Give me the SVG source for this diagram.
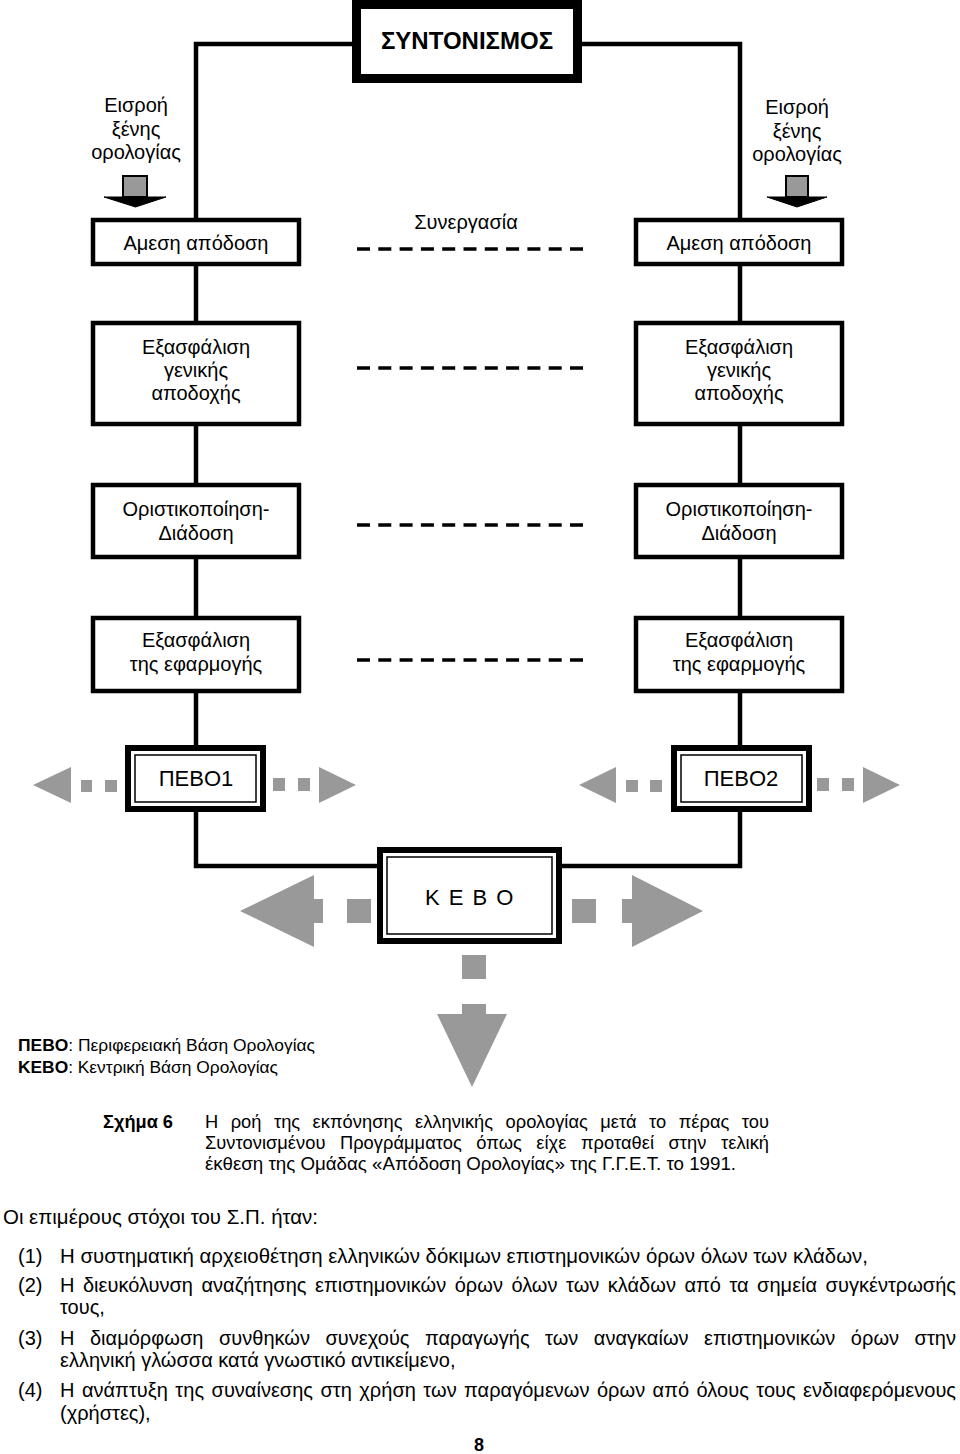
<svg xmlns="http://www.w3.org/2000/svg" width="960" height="1454" viewBox="0 0 960 1454">
<style>
text{font-family:"Liberation Sans",Arial,sans-serif;fill:#000}
.t{font-size:20px;text-anchor:middle}
.box{fill:#fff;stroke:#000;stroke-width:4.5}
.dbl{fill:#fff;stroke:#000;stroke-width:6}
.dbi{fill:none;stroke:#000;stroke-width:1.5}
.ln{fill:none;stroke:#000;stroke-width:4.5;stroke-linejoin:miter}
.dash{stroke:#000;stroke-width:3.5;stroke-dasharray:13 8.3}
.g{fill:#999}
.in{fill:#999;stroke:#000;stroke-width:2}
.hd{fill:#000;stroke:#000;stroke-width:1;stroke-linejoin:miter}
.p{font-size:20px}
.c{font-size:18.3px}
.lg{font-size:17.3px}
</style>
<rect width="960" height="1454" fill="#fff"/>
<g id="connectors">
<path class="ln" d="M352,44 H196 V745"/>
<path class="ln" d="M582,44 H740 V745"/>
<path class="ln" d="M196,812 V866 H377"/>
<path class="ln" d="M740,812 V866 H562"/>
<line class="dash" x1="357" y1="249" x2="583" y2="249"/>
<line class="dash" x1="357" y1="368" x2="583" y2="368"/>
<line class="dash" x1="357" y1="525" x2="583" y2="525"/>
<line class="dash" x1="357" y1="660" x2="583" y2="660"/>
</g>
<g id="syntonismos">
<rect x="356.5" y="4.5" width="221" height="74" fill="#fff" stroke="#000" stroke-width="9"/>
<text x="467" y="49" font-size="24" font-weight="bold" text-anchor="middle">ΣΥΝΤΟΝΙΣΜΟΣ</text>
</g>
<g id="input-left">
<text class="t" x="136" y="112">Εισροή</text>
<text class="t" x="136" y="136">ξένης</text>
<text class="t" x="136" y="159">ορολογίας</text>
<rect class="in" x="123" y="176" width="24" height="21"/>
<polygon class="hd" points="104,197 166,197 135.5,207"/>
</g>
<g id="input-right">
<text class="t" x="797" y="114">Εισροή</text>
<text class="t" x="797" y="138">ξένης</text>
<text class="t" x="797" y="161">ορολογίας</text>
<rect class="in" x="786" y="176" width="22" height="21"/>
<polygon class="hd" points="767,197 827,197 797,207"/>
</g>
<g id="synergasia">
<text class="t" x="466" y="229">Συνεργασία</text>
</g>
<g id="amesi-left">
<rect class="box" x="93" y="220" width="206" height="44"/>
<text class="t" x="196" y="250">Αμεση απόδοση</text>
</g>
<g id="amesi-right">
<rect class="box" x="636" y="220" width="206" height="44"/>
<text class="t" x="739" y="250">Αμεση απόδοση</text>
</g>
<g id="apodoxi-left">
<rect class="box" x="93" y="323" width="206" height="101"/>
<text class="t" x="196" y="354">Εξασφάλιση</text>
<text class="t" x="196" y="377">γενικής</text>
<text class="t" x="196" y="400">αποδοχής</text>
</g>
<g id="apodoxi-right">
<rect class="box" x="636" y="323" width="206" height="101"/>
<text class="t" x="739" y="354">Εξασφάλιση</text>
<text class="t" x="739" y="377">γενικής</text>
<text class="t" x="739" y="400">αποδοχής</text>
</g>
<g id="diadosi-left">
<rect class="box" x="93" y="485" width="206" height="72"/>
<text class="t" x="196" y="516">Οριστικοποίηση-</text>
<text class="t" x="196" y="540">Διάδοση</text>
</g>
<g id="diadosi-right">
<rect class="box" x="636" y="485" width="206" height="72"/>
<text class="t" x="739" y="516">Οριστικοποίηση-</text>
<text class="t" x="739" y="540">Διάδοση</text>
</g>
<g id="efarmogi-left">
<rect class="box" x="93" y="618" width="206" height="73"/>
<text class="t" x="196" y="647">Εξασφάλιση</text>
<text class="t" x="196" y="671">της εφαρμογής</text>
</g>
<g id="efarmogi-right">
<rect class="box" x="636" y="618" width="206" height="73"/>
<text class="t" x="739" y="647">Εξασφάλιση</text>
<text class="t" x="739" y="671">της εφαρμογής</text>
</g>
<g id="pevo1">
<polygon class="g" points="33,785 71,767 71,803"/>
<rect class="g" x="81" y="780" width="11" height="12"/>
<rect class="g" x="105" y="780" width="12" height="12"/>
<rect class="g" x="273" y="778" width="12" height="13"/>
<rect class="g" x="298" y="778" width="12" height="13"/>
<polygon class="g" points="356,785 319,767 319,803"/>
<rect class="dbl" x="128" y="748" width="135" height="61"/>
<rect class="dbi" x="135" y="755" width="121" height="47"/>
<text x="196" y="786" font-size="22" text-anchor="middle">ΠΕΒΟ1</text>
</g>
<g id="pevo2">
<polygon class="g" points="579,785 616,767 616,803"/>
<rect class="g" x="626" y="780" width="12" height="12"/>
<rect class="g" x="650" y="780" width="12" height="12"/>
<rect class="g" x="817" y="778" width="12" height="13"/>
<rect class="g" x="842" y="778" width="12" height="13"/>
<polygon class="g" points="900,785 863,767 863,803"/>
<rect class="dbl" x="674" y="748" width="135" height="61"/>
<rect class="dbi" x="681" y="755" width="121" height="47"/>
<text x="741" y="786" font-size="22" text-anchor="middle">ΠΕΒΟ2</text>
</g>
<g id="kevo">
<polygon class="g" points="240,911 314,875 314,899 323,899 323,923 314,923 314,947"/>
<rect class="g" x="347" y="899" width="24" height="24"/>
<rect class="g" x="572" y="899" width="24" height="24"/>
<polygon class="g" points="703,911 632,875 632,899 622,899 622,923 632,923 632,947"/>
<rect class="g" x="462" y="955" width="24" height="24"/>
<polygon class="g" points="462,1004 486,1004 486,1014 507,1014 472,1087 437,1014 462,1014"/>
<rect class="dbl" x="380" y="850" width="179" height="91"/>
<rect class="dbi" x="387" y="857" width="165" height="77"/>
<text x="470" y="905" font-size="22" letter-spacing="1.5" text-anchor="middle">Κ Ε Β Ο</text>
</g>
<g id="legend">
<text class="lg" x="18" y="1051" textLength="297" lengthAdjust="spacingAndGlyphs"><tspan font-weight="bold">ΠΕΒΟ</tspan>: Περιφερειακή Βάση Ορολογίας</text>
<text class="lg" x="18" y="1073" textLength="260" lengthAdjust="spacingAndGlyphs"><tspan font-weight="bold">ΚΕΒΟ</tspan>: Κεντρική Βάση Ορολογίας</text>
</g>
<g id="caption">
<text class="c" x="103" y="1128" font-weight="bold" textLength="70" lengthAdjust="spacingAndGlyphs">Σχήμα 6</text>
<text class="c" x="205" y="1128" word-spacing="7.3" textLength="564" lengthAdjust="spacing">Η ροή της εκπόνησης ελληνικής ορολογίας μετά το πέρας του</text>
<text class="c" x="205" y="1149" word-spacing="9.4" textLength="564" lengthAdjust="spacing">Συντονισμένου Προγράμματος όπως είχε προταθεί στην τελική</text>
<text class="c" x="205" y="1170" textLength="531" lengthAdjust="spacingAndGlyphs">έκθεση της Ομάδας «Απόδοση Ορολογίας» της Γ.Γ.Ε.Τ. το 1991.</text>
</g>
<g id="body">
<text class="p" x="3" y="1224" textLength="315" lengthAdjust="spacingAndGlyphs">Οι επιμέρους στόχοι του Σ.Π. ήταν:</text>
<text class="p" x="18" y="1263">(1)</text>
<text class="p" x="60" y="1263" textLength="808" lengthAdjust="spacingAndGlyphs">Η συστηματική αρχειοθέτηση ελληνικών δόκιμων επιστημονικών όρων όλων των κλάδων,</text>
<text class="p" x="18" y="1292">(2)</text>
<text class="p" x="60" y="1292" word-spacing="2.9" textLength="896" lengthAdjust="spacing">Η διευκόλυνση αναζήτησης επιστημονικών όρων όλων των κλάδων από τα σημεία συγκέντρωσής</text>
<text class="p" x="60" y="1314">τους,</text>
<text class="p" x="18" y="1345">(3)</text>
<text class="p" x="60" y="1345" word-spacing="9.9" textLength="896" lengthAdjust="spacing">Η διαμόρφωση συνθηκών συνεχούς παραγωγής των αναγκαίων επιστημονικών όρων στην</text>
<text class="p" x="60" y="1367">ελληνική γλώσσα κατά γνωστικό αντικείμενο,</text>
<text class="p" x="18" y="1397">(4)</text>
<text class="p" x="60" y="1397" word-spacing="1.85" textLength="896" lengthAdjust="spacing">Η ανάπτυξη της συναίνεσης στη χρήση των παραγόμενων όρων από όλους τους ενδιαφερόμενους</text>
<text class="p" x="60" y="1420">(χρήστες),</text>
<text x="479" y="1451" font-size="18" font-weight="bold" text-anchor="middle">8</text>
</g>
</svg>
